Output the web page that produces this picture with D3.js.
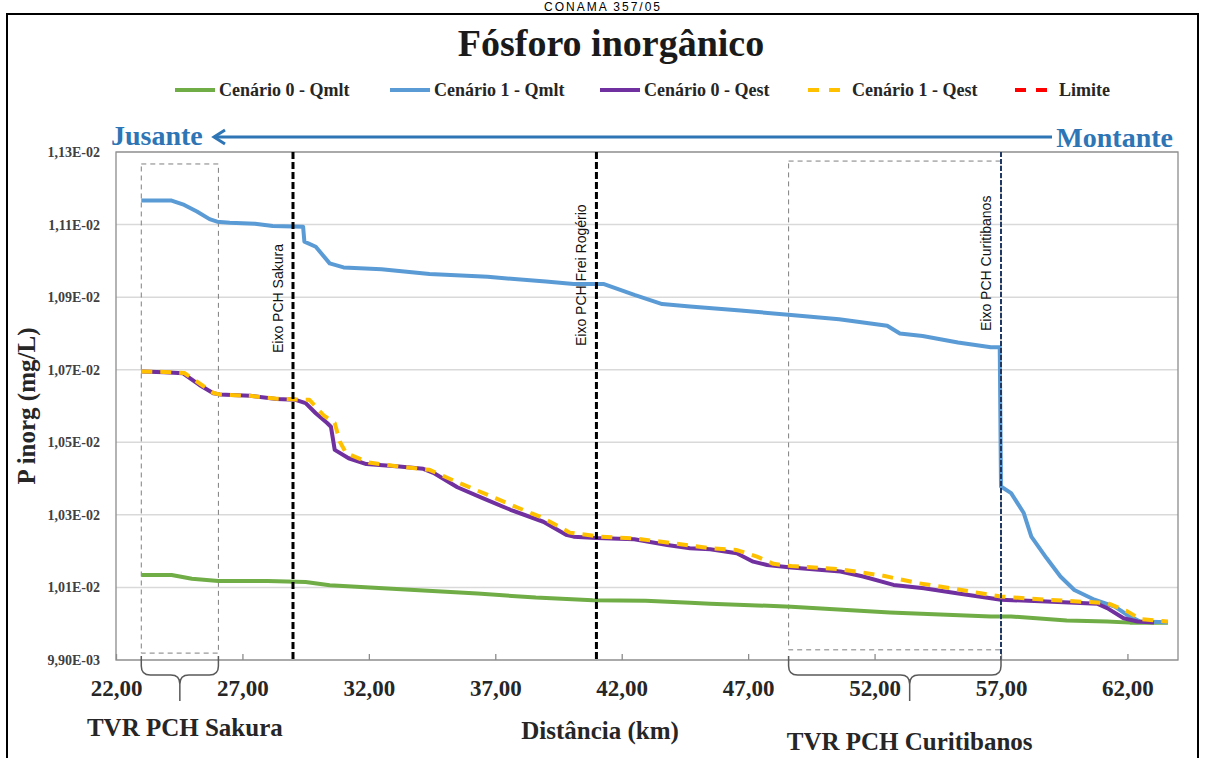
<!DOCTYPE html>
<html>
<head>
<meta charset="utf-8">
<script src="https://cdn.jsdelivr.net/npm/d3@7"></script>
<style>
  body { margin: 0; background: #fff; }
  svg text { font-family: "Liberation Serif", serif; }
</style>
</head>
<body>
<div id="chart"></div>
<script>
// Fósforo inorgânico - perfil longitudinal

// Series (distance in km, P inorg in mg/L)
const cen0QmltKm  = [23.0, 24.2, 25.0, 26.05, 28.0, 29.5, 30.45, 33.45, 36.3, 38.6, 40.85, 42.95, 44.7, 45.5, 48.7, 52.6, 56.6, 57.4, 59.6, 61.2, 62.1, 63.6];
const cen0QmltVal = [0.010134, 0.010134, 0.010124, 0.010118, 0.010118, 0.010115, 0.010106, 0.010094, 0.010083, 0.010072, 0.010065, 0.010063, 0.010058, 0.010055, 0.010047, 0.010031, 0.010020, 0.010020, 0.010009, 0.010006, 0.010003, 0.010003];

const cen1QmltKm  = [23.0, 24.2, 24.7, 25.2, 25.7, 26.0, 26.5, 27.5, 28.2, 29.4, 29.45, 29.9, 30.45, 31.0, 32.5, 33.9, 34.4, 36.7, 39.0, 40.1, 41.3, 42.5, 43.6, 44.7, 46.7, 48.7, 50.6, 52.5, 53.0, 53.9, 55.3, 56.6, 56.95, 57.0, 57.4, 57.9, 58.2, 58.8, 59.35, 59.9, 60.7, 61.5, 62.0, 62.5, 63.6];
const cen1QmltVal = [0.011166, 0.011166, 0.011154, 0.011136, 0.011115, 0.011108, 0.011105, 0.011102, 0.011096, 0.011094, 0.011053, 0.011039, 0.010993, 0.010982, 0.010977, 0.010967, 0.010964, 0.010956, 0.010943, 0.010936, 0.010936, 0.010906, 0.010881, 0.010874, 0.010863, 0.010851, 0.010839, 0.010821, 0.010800, 0.010793, 0.010775, 0.010762, 0.010762, 0.010378, 0.010360, 0.010305, 0.010240, 0.010181, 0.010130, 0.010093, 0.010066, 0.010047, 0.010024, 0.010006, 0.010004];

const cen0QestKm  = [23.0, 23.9, 24.65, 25.3, 25.85, 26.1, 27.3, 28.35, 29.1, 29.5, 29.9, 30.35, 30.5, 30.65, 31.2, 31.9, 33.2, 34.15, 34.55, 35.5, 36.5, 37.6, 38.9, 39.8, 40.1, 41.0, 42.5, 43.8, 44.7, 45.5, 46.55, 47.2, 47.75, 48.7, 50.65, 51.55, 52.75, 53.95, 55.25, 56.6, 57.0, 58.8, 60.8, 61.2, 61.85, 62.4, 63.05];
const cen0QestVal = [0.010695, 0.010693, 0.010690, 0.010658, 0.010635, 0.010632, 0.010628, 0.010619, 0.010617, 0.010608, 0.010580, 0.010553, 0.010543, 0.010479, 0.010456, 0.010440, 0.010433, 0.010427, 0.010416, 0.010376, 0.010346, 0.010314, 0.010281, 0.010245, 0.010240, 0.010236, 0.010233, 0.010217, 0.010208, 0.010205, 0.010194, 0.010171, 0.010162, 0.010155, 0.010144, 0.010130, 0.010107, 0.010098, 0.010084, 0.010070, 0.010066, 0.010061, 0.010055, 0.010043, 0.010015, 0.010006, 0.010003];

const cen1QestKm  = [23.0, 23.9, 24.7, 25.35, 25.85, 26.1, 27.3, 28.35, 29.15, 29.65, 30.2, 30.65, 30.85, 31.1, 32.0, 33.2, 34.4, 35.6, 36.7, 37.85, 38.9, 39.95, 41.15, 42.5, 43.8, 45.0, 45.5, 46.55, 47.35, 48.0, 48.7, 50.65, 52.35, 53.7, 55.0, 56.2, 57.0, 58.8, 61.2, 62.0, 62.5, 63.6];
const cen1QestVal = [0.010695, 0.010694, 0.010691, 0.010660, 0.010636, 0.010632, 0.010628, 0.010620, 0.010618, 0.010617, 0.010575, 0.010553, 0.010502, 0.010470, 0.010444, 0.010433, 0.010424, 0.010387, 0.010355, 0.010321, 0.010291, 0.010251, 0.010240, 0.010235, 0.010224, 0.010213, 0.010208, 0.010203, 0.010185, 0.010165, 0.010159, 0.010150, 0.010132, 0.010112, 0.010098, 0.010084, 0.010075, 0.010066, 0.010057, 0.010034, 0.010013, 0.010006];

// Axis ticks
const xTickValues = [22, 27, 32, 37, 42, 47, 52, 57, 62];
const yTickValues = [0.0099, 0.0101, 0.0103, 0.0105, 0.0107, 0.0109, 0.0111, 0.0113];

// Annotations
const eixoNames = ['Eixo PCH Sakura', 'Eixo PCH Frei Rogério', 'Eixo PCH Curitibanos'];
const eixoKm = [29.0, 41.0, 57.0];
const tvrNames = ['TVR PCH Sakura', 'TVR PCH Curitibanos'];
const tvrStartKm = [23.0, 48.6];
const tvrEndKm = [26.05, 57.0];

const legendNames = ['Cenário 0 - Qmlt', 'Cenário 1 - Qmlt', 'Cenário 0 - Qest', 'Cenário 1 - Qest', 'Limite'];

const width = 1206, height = 758;
const margin = { top: 152, right: 28, bottom: 98, left: 116 };

const svg = d3.select('#chart')
    .append('svg')
    .attr('width', width)
    .attr('height', height);

const x = d3.scaleLinear().domain([22, 64]).range([margin.left, width - margin.right]);
const y = d3.scaleLinear().domain([0.0099, 0.0113]).range([height - margin.bottom, margin.top]);

const fmtY = v => {
    const [m, e] = v.toExponential(2).split('e');
    const exp = Math.abs(+e);
    return m.replace('.', ',') + 'E' + (+e < 0 ? '-' : '+') + (exp < 10 ? '0' : '') + exp;
};
const fmtX = v => v.toFixed(2).replace('.', ',');

// outer frame + heading of the page above it
svg.append('text')
    .attr('x', 603).attr('y', 11)
    .attr('text-anchor', 'middle')
    .style('font-family', '"Liberation Sans", sans-serif')
    .style('font-size', '12px')
    .style('letter-spacing', '2px')
    .text('CONAMA 357/05');
svg.append('rect')
    .attr('x', 7).attr('y', 14)
    .attr('width', 1191).attr('height', 760)
    .attr('fill', 'none')
    .attr('stroke', '#000')
    .attr('stroke-width', 2);

// Title
svg.append('text')
    .attr('x', 611).attr('y', 56)
    .attr('text-anchor', 'middle')
    .style('font-size', '38px')
    .style('font-weight', 'bold')
    .attr('fill', '#1a1a1a')
    .text('Fósforo inorgânico');

// Series config
const series = [
    { name: legendNames[0], km: cen0QmltKm, val: cen0QmltVal, color: '#70AD47', dash: null },
    { name: legendNames[1], km: cen1QmltKm, val: cen1QmltVal, color: '#5B9BD5', dash: null },
    { name: legendNames[2], km: cen0QestKm, val: cen0QestVal, color: '#7030A0', dash: null },
    { name: legendNames[3], km: cen1QestKm, val: cen1QestVal, color: '#FFC000', dash: '11,8' },
    { name: legendNames[4], km: [], val: [], color: '#FF0000', dash: '9,7' }
];

// Legend
const legendX = [175, 390, 600, 808, 1015];
const legend = svg.append('g');
series.forEach((s, i) => {
    const g = legend.append('g').attr('transform', `translate(${legendX[i]}, 90)`);
    g.append('line')
        .attr('x1', 0).attr('x2', 40)
        .attr('stroke', s.color)
        .attr('stroke-width', 4)
        .attr('stroke-dasharray', s.dash ? '11,10' : null);
    g.append('text')
        .attr('x', 44).attr('y', 6)
        .style('font-size', '18px')
        .style('font-weight', 'bold')
        .attr('fill', '#262626')
        .text(s.name);
});

// Jusante / Montante arrow
const riverColor = '#2E75B6';
svg.append('line')
    .attr('x1', 1052).attr('x2', 214)
    .attr('y1', 137).attr('y2', 137)
    .attr('stroke', riverColor).attr('stroke-width', 3);
svg.append('path')
    .attr('d', 'M225,130 L214,137 L225,144')
    .attr('fill', 'none')
    .attr('stroke', riverColor).attr('stroke-width', 3);
svg.append('text')
    .attr('x', 111).attr('y', 145)
    .style('font-size', '28px').style('font-weight', 'bold')
    .attr('fill', riverColor)
    .text('Jusante');
svg.append('text')
    .attr('x', 1173).attr('y', 147)
    .attr('text-anchor', 'end')
    .style('font-size', '28px').style('font-weight', 'bold')
    .attr('fill', riverColor)
    .text('Montante');

// Grid
const chart = svg.append('g');
chart.append('g')
    .selectAll('line')
    .data(yTickValues)
    .join('line')
    .attr('x1', x.range()[0]).attr('x2', x.range()[1])
    .attr('y1', d => y(d)).attr('y2', d => y(d))
    .attr('stroke', '#d9d9d9')
    .attr('stroke-width', 1.5);

// Plot border
chart.append('rect')
    .attr('x', x.range()[0]).attr('y', y.range()[1])
    .attr('width', x.range()[1] - x.range()[0])
    .attr('height', y.range()[0] - y.range()[1])
    .attr('fill', 'none')
    .attr('stroke', '#8c8c8c')
    .attr('stroke-width', 1.3);

// Y axis labels
const yAxis = d3.axisLeft(y).tickValues(yTickValues).tickFormat(fmtY).tickSize(0).tickPadding(16);
svg.append('g')
    .attr('transform', `translate(${x.range()[0]},0)`)
    .call(yAxis)
    .call(g => g.select('.domain').remove())
    .call(g => g.selectAll('text')
        .style('font-family', '"Liberation Serif", serif')
        .style('font-size', '14px')
        .style('font-weight', 'bold')
        .attr('fill', '#404040'));

// X axis: inside ticks + labels
const xAxis = d3.axisBottom(x).tickValues(xTickValues).tickFormat(fmtX).tickSizeInner(-6).tickSizeOuter(0).tickPadding(20);
svg.append('g')
    .attr('transform', `translate(0,${y.range()[0]})`)
    .call(xAxis)
    .call(g => g.select('.domain').remove())
    .call(g => g.selectAll('.tick line').attr('stroke', '#8c8c8c').attr('stroke-width', 1.3))
    .call(g => g.selectAll('text')
        .style('font-family', '"Liberation Serif", serif')
        .style('font-size', '23px')
        .style('font-weight', 'bold')
        .attr('fill', '#262626'));

// TVR dashed boxes
const boxTop = [0.011267, 0.011275];
const boxBottom = [0.009919, 0.009928];
tvrNames.forEach((n, i) => {
    chart.append('rect')
        .attr('x', x(tvrStartKm[i]))
        .attr('y', y(boxTop[i]))
        .attr('width', x(tvrEndKm[i]) - x(tvrStartKm[i]))
        .attr('height', y(boxBottom[i]) - y(boxTop[i]))
        .attr('fill', 'none')
        .attr('stroke', '#7f7f7f')
        .attr('stroke-width', 1)
        .attr('stroke-dasharray', '5,4');
});

// Series lines
const line = d3.line()
    .x(d => x(d[0]))
    .y(d => y(d[1]));

chart.append('g')
    .selectAll('path')
    .data(series.filter(s => s.km.length))
    .join('path')
    .attr('d', s => line(d3.zip(s.km, s.val)))
    .attr('fill', 'none')
    .attr('stroke', s => s.color)
    .attr('stroke-width', 4)
    .attr('stroke-linejoin', 'round')
    .attr('stroke-dasharray', s => s.dash);

// Eixo lines
const eixoStyle = [
    { color: '#000', w: 3, dash: '7,3' },
    { color: '#000', w: 3, dash: '7,3' },
    { color: '#1F3864', w: 2, dash: '5,2' }
];
const labelBottom = [353, 346, 331];
eixoKm.forEach((k, i) => {
    chart.append('line')
        .attr('x1', x(k)).attr('x2', x(k))
        .attr('y1', y.range()[1]).attr('y2', y.range()[0])
        .attr('stroke', eixoStyle[i].color)
        .attr('stroke-width', eixoStyle[i].w)
        .attr('stroke-dasharray', eixoStyle[i].dash);
    chart.append('text')
        .attr('transform', `translate(${x(k) - 10},${labelBottom[i]}) rotate(-90)`)
        .style('font-family', '"Liberation Sans", sans-serif')
        .style('font-size', '14px')
        .attr('fill', '#111')
        .text(eixoNames[i]);
});

// Braces under TVR boxes
function bracePath(x0, x1, xm, yTop, yBar, yTip) {
    const r = 9;
    return `M${x0},${yTop} L${x0},${yBar - r} Q${x0},${yBar} ${x0 + r},${yBar} L${xm - r},${yBar} Q${xm},${yBar} ${xm},${yBar + r} L${xm},${yTip}` +
        ` M${xm},${yBar + r} Q${xm},${yBar} ${xm + r},${yBar} L${x1 - r},${yBar} Q${x1},${yBar} ${x1},${yBar - r} L${x1},${yTop}`;
}
const braceMid = [0.5, 0.57];
const labelY = [736, 750];
tvrNames.forEach((n, i) => {
    const x0 = x(tvrStartKm[i]), x1 = x(tvrEndKm[i]);
    const xm = x0 + (x1 - x0) * braceMid[i];
    svg.append('path')
        .attr('d', bracePath(x0, x1, xm, 656, 675, 701))
        .attr('fill', 'none')
        .attr('stroke', '#595959')
        .attr('stroke-width', 1.5);
    svg.append('text')
        .attr('x', xm + (i === 0 ? 5 : 0))
        .attr('y', labelY[i])
        .attr('text-anchor', 'middle')
        .style('font-size', '25px')
        .style('font-weight', 'bold')
        .attr('fill', '#262626')
        .text(n);
});

// Axis titles
svg.append('text')
    .attr('x', 600).attr('y', 739)
    .attr('text-anchor', 'middle')
    .style('font-size', '25px')
    .style('font-weight', 'bold')
    .attr('fill', '#262626')
    .text('Distância (km)');

svg.append('text')
    .attr('transform', 'translate(35,406) rotate(-90)')
    .attr('text-anchor', 'middle')
    .style('font-size', '25px')
    .style('font-weight', 'bold')
    .attr('fill', '#262626')
    .text('P inorg (mg/L)');
</script>
</body>
</html>
